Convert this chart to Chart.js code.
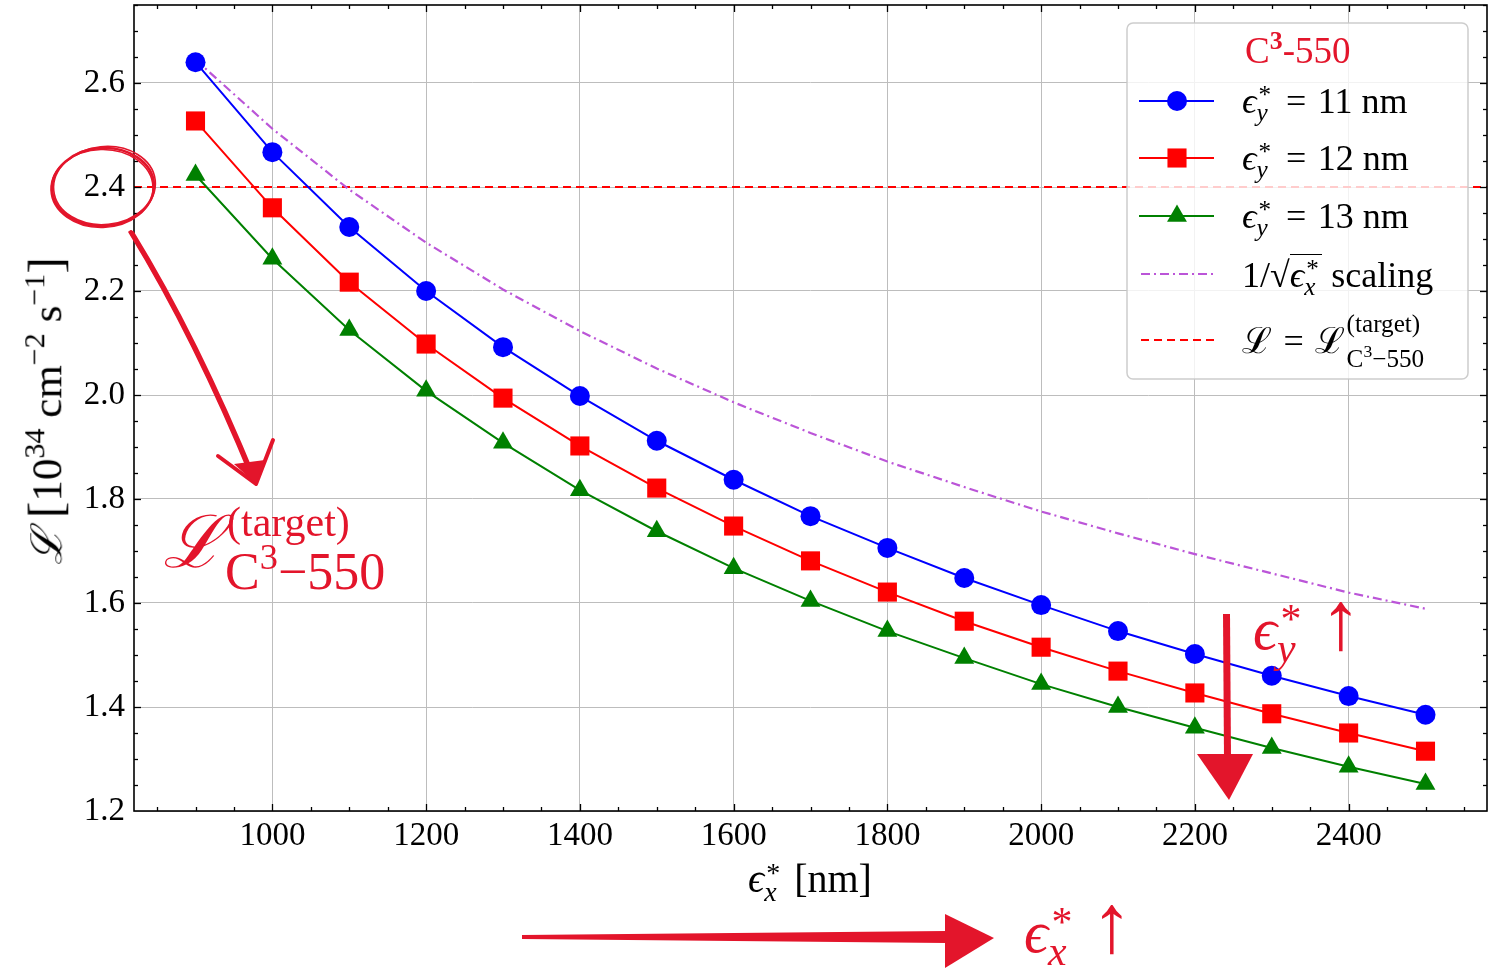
<!DOCTYPE html>
<html>
<head>
<meta charset="utf-8">
<script src="https://cdn.jsdelivr.net/npm/chart.js@4.4.1/dist/chart.umd.min.js"></script>
<style>
  html, body { margin: 0; padding: 0; background: #fff; }
  #wrap { position: relative; width: 1493px; height: 973px; overflow: hidden; }
  #chart { position: absolute; left: 0; top: 0; }
  .txt { position: absolute; white-space: nowrap; line-height: 1; color: #000;
         font-family: "Liberation Serif", "DejaVu Serif", serif; }
  .it { font-style: italic; }
  .sup { font-size: .7em; position: relative; top: -.55em; }
  .ss { display: inline-block; position: relative; width: .5em; height: .6em; }
  .ss .p, .ss .b { position: absolute; left: 0; font-size: .7em; line-height: 1; }
  .ss .p { top: -.35em; left: .08em; }
  .ss .b { top: .35em; font-style: italic; }
  .eq { margin: 0 .32em; }
  .up { font-size: 1.6em; line-height: 0; font-weight: bold; }
  .big { font-size: 1.15em; line-height: 0; }
  .ink { color: #e3152b; }
</style>
</head>
<body>
<div id="wrap"><canvas id="chart" width="1493" height="973"></canvas></div>
<script>
// emittance scan, luminosity in 1e34 cm^-2 s^-1
const emitX = [900, 1000, 1100, 1200, 1300, 1400, 1500, 1600, 1700, 1800, 1900, 2000, 2100, 2200, 2300, 2400, 2500];
const lumiEy11 = [2.640, 2.467, 2.323, 2.200, 2.092, 1.998, 1.912, 1.837, 1.767, 1.706, 1.648, 1.596, 1.546, 1.502, 1.460, 1.421, 1.385];
const lumiEy12 = [2.527, 2.360, 2.217, 2.098, 1.994, 1.902, 1.821, 1.748, 1.681, 1.621, 1.565, 1.515, 1.469, 1.427, 1.387, 1.350, 1.315];
const lumiEy13 = [2.423, 2.262, 2.125, 2.008, 1.908, 1.817, 1.738, 1.667, 1.604, 1.546, 1.494, 1.444, 1.400, 1.360, 1.321, 1.285, 1.252];
const lumiScaling = [2.645, 2.512, 2.395, 2.293, 2.203, 2.123, 2.051, 1.986, 1.927, 1.872, 1.823, 1.776, 1.734, 1.694, 1.657, 1.620, 1.589];
const targetLumi = 2.4;

const xTickValues = [1000, 1200, 1400, 1600, 1800, 2000, 2200, 2400];
const yTickValues = [1.2, 1.4, 1.6, 1.8, 2.0, 2.2, 2.4, 2.6];
const xRange = [820, 2580];
const yRange = [1.2, 2.75];

const FONT = '"Liberation Serif", "DejaVu Serif", serif';
const INK = '#e3152b';
const GRID = '#bdbdbd';
const PURPLE = '#bb55d8';

const pts = ys => emitX.map((x, i) => ({ x, y: ys[i] }));

const series = (label, data, color, style, radius) => ({
  label, data: pts(data), showLine: true,
  borderColor: color, backgroundColor: color, borderWidth: 2,
  pointStyle: style, pointRadius: radius, pointHoverRadius: radius,
  pointBorderWidth: 0, pointBackgroundColor: color,
});

// inward major/minor ticks and the black frame, matplotlib style
const frameTicks = {
  id: 'frameTicks',
  afterDraw(chart) {
    const { ctx, chartArea: a, scales: { x, y } } = chart;
    ctx.save();
    ctx.strokeStyle = '#000';
    ctx.lineWidth = 1.3;
    const tick = (x1, y1, x2, y2) => { ctx.beginPath(); ctx.moveTo(x1, y1); ctx.lineTo(x2, y2); ctx.stroke(); };
    for (let v = 850; v < xRange[1]; v += 50) {
      const px = Math.round(x.getPixelForValue(v)) + 0.5;
      const len = v % 200 === 0 ? 7 : 4;
      tick(px, a.bottom, px, a.bottom - len);
      tick(px, a.top, px, a.top + len);
    }
    for (let v = 1.25; v < yRange[1]; v += 0.05) {
      const r = Math.round(v * 100);
      const py = Math.round(y.getPixelForValue(v)) + 0.5;
      const len = r % 20 === 0 ? 7 : 4;
      tick(a.left, py, a.left + len, py);
      tick(a.right, py, a.right - len, py);
    }
    ctx.lineWidth = 1.6;
    ctx.strokeRect(a.left, a.top, a.right - a.left, a.bottom - a.top);
    ctx.restore();
  }
};

// legend panel (box + samples), text is laid over it in HTML
const legendBox = {
  id: 'legendBox',
  afterDatasetsDraw(chart) {
    const ctx = chart.ctx;
    ctx.save();
    ctx.fillStyle = 'rgba(255,255,255,0.8)';
    ctx.strokeStyle = 'rgba(200,200,200,0.9)';
    ctx.lineWidth = 1.5;
    ctx.beginPath();
    ctx.roundRect(1127, 23, 341, 356, 6);
    ctx.fill();
    ctx.stroke();
    const rows = [
      { y: 101, color: '#0000ff', style: 'circle', r: 10 },
      { y: 158, color: '#ff0000', style: 'rect', r: 13.5 },
      { y: 216, color: '#008000', style: 'triangle', r: 11.5 },
    ];
    rows.forEach(rw => {
      ctx.strokeStyle = rw.color;
      ctx.lineWidth = 2;
      ctx.setLineDash([]);
      ctx.beginPath(); ctx.moveTo(1139, rw.y); ctx.lineTo(1214, rw.y); ctx.stroke();
      ctx.fillStyle = rw.color;
      Chart.helpers.drawPoint(ctx, { pointStyle: rw.style, radius: rw.r, rotation: 0, borderWidth: 0 }, 1177, rw.y);
    });
    ctx.strokeStyle = PURPLE;
    ctx.lineWidth = 2.2;
    ctx.setLineDash([9, 4, 2, 4]);
    ctx.beginPath(); ctx.moveTo(1141, 274); ctx.lineTo(1214, 274); ctx.stroke();
    ctx.strokeStyle = '#ff0000';
    ctx.lineWidth = 2;
    ctx.setLineDash([8, 5]);
    ctx.beginPath(); ctx.moveTo(1141, 340); ctx.lineTo(1214, 340); ctx.stroke();
    ctx.restore();
  }
};

// hand drawn red marks
const sketch = {
  id: 'sketch',
  afterDraw(chart) {
    const ctx = chart.ctx;
    const cy = chart.scales.y.getPixelForValue(targetLumi);
    ctx.save();
    ctx.strokeStyle = INK;
    ctx.fillStyle = INK;
    ctx.lineCap = 'round';
    ctx.lineJoin = 'round';
    [[0, 0, 2.6, -0.06], [1.5, -1.5, 1.6, -0.1], [-1, 1.5, 1.6, -0.03]].forEach(([dx, dy, w, rot]) => {
      ctx.lineWidth = w;
      ctx.beginPath();
      ctx.ellipse(103 + dx, cy + dy, 51, 39, rot, 0, Math.PI * 2);
      ctx.stroke();
    });
    // curved arrow from the circle
    [[0, 4], [2, 2], [-2, 1.6]].forEach(([d, w]) => {
      ctx.lineWidth = w;
      ctx.beginPath();
      ctx.moveTo(131 + d, 232);
      ctx.quadraticCurveTo(196 + d, 338, 254 + d, 480);
      ctx.stroke();
    });
    ctx.lineWidth = 4;
    ctx.beginPath();
    ctx.moveTo(218, 456); ctx.lineTo(256, 484); ctx.lineTo(273, 440);
    ctx.stroke();
    ctx.beginPath();
    ctx.moveTo(234, 464); ctx.lineTo(256, 484); ctx.lineTo(265, 460); ctx.closePath();
    ctx.fill();
    // horizontal arrow under the x label
    ctx.beginPath();
    ctx.moveTo(522, 935); ctx.lineTo(946, 931); ctx.lineTo(946, 943); ctx.lineTo(522, 939);
    ctx.closePath(); ctx.fill();
    ctx.beginPath();
    ctx.moveTo(945, 914); ctx.lineTo(994, 938); ctx.lineTo(945, 968); ctx.closePath();
    ctx.fill();
    // vertical arrow on the right
    ctx.beginPath();
    ctx.moveTo(1223, 614); ctx.lineTo(1230, 614); ctx.lineTo(1231, 758); ctx.lineTo(1224, 758);
    ctx.closePath(); ctx.fill();
    ctx.beginPath();
    ctx.moveTo(1197, 754); ctx.lineTo(1253, 754); ctx.lineTo(1229, 800); ctx.closePath();
    ctx.fill();
    ctx.restore();
  }
};

new Chart(document.getElementById('chart'), {
  type: 'scatter',
  data: {
    datasets: [
      series('εy* = 11 nm', lumiEy11, '#0000ff', 'circle', 10),
      series('εy* = 12 nm', lumiEy12, '#ff0000', 'rect', 13.5),
      series('εy* = 13 nm', lumiEy13, '#008000', 'triangle', 11.5),
      {
        label: '1/√εx* scaling', data: pts(lumiScaling), showLine: true,
        borderColor: PURPLE, borderWidth: 2.2, borderDash: [9, 4, 2, 4], pointRadius: 0,
      },
      {
        label: 'L = L target', data: xRange.map(x => ({ x, y: targetLumi })), showLine: true,
        borderColor: '#ff0000', borderWidth: 2, borderDash: [8, 5], pointRadius: 0,
      },
    ],
  },
  options: {
    responsive: false,
    devicePixelRatio: 1,
    animation: false,
    layout: { autoPadding: false, padding: { left: 0, top: 5, right: 6, bottom: 0 } },
    plugins: { legend: { display: false }, tooltip: { enabled: false } },
    scales: {
      x: {
        type: 'linear', min: xRange[0], max: xRange[1], bounds: 'data',
        afterBuildTicks: s => { s.ticks = xTickValues.map(v => ({ value: v })); },
        afterFit: s => { s.height = 162; s.paddingLeft = 0; s.paddingRight = 0; },
        grid: { color: GRID, lineWidth: 1, drawTicks: false },
        border: { display: false },
        ticks: { color: '#000', font: { family: FONT, size: 33 }, padding: 6, maxRotation: 0, callback: v => String(v) },
      },
      y: {
        type: 'linear', min: yRange[0], max: yRange[1], bounds: 'data',
        afterBuildTicks: s => { s.ticks = yTickValues.map(v => ({ value: v })); },
        afterFit: s => { s.width = 134; s.paddingTop = 0; s.paddingBottom = 0; },
        grid: { color: GRID, lineWidth: 1, drawTicks: false },
        border: { display: false },
        ticks: { color: '#000', font: { family: FONT, size: 33 }, padding: 9, callback: v => v.toFixed(1) },
      },
    },
  },
  plugins: [legendBox, frameTicks, sketch],
});

// text overlays (math-ish labels)
const wrap = document.getElementById('wrap');
function addText(html, x, base, size, extra = '') {
  const el = document.createElement('div');
  el.className = 'txt ' + extra;
  el.style.left = x + 'px';
  el.style.top = (base - 0.84 * size) + 'px';
  el.style.fontSize = size + 'px';
  el.innerHTML = html;
  wrap.appendChild(el);
  return el;
}
const epsStar = sub => `<span class="it">ϵ</span><span class="ss"><span class="p">*</span><span class="b">${sub}</span></span>`;

// legend title + entries
addText('C<b class="sup">3</b>-550', 1245, 63, 37, 'ink');
addText(`${epsStar('y')}<span class="eq">=</span>11 nm`, 1242, 113, 36);
addText(`${epsStar('y')}<span class="eq">=</span>12 nm`, 1242, 170, 36);
addText(`${epsStar('y')}<span class="eq">=</span>13 nm`, 1242, 228, 36);
addText(`1/√<span style="border-top:1.5px solid #000">${epsStar('x')}</span> scaling`, 1242, 287, 36);
addText(`ℒ<span class="eq">=</span>ℒ<span style="display:inline-block;position:relative;width:2.4em;height:.6em">` +
  `<span style="position:absolute;left:.05em;top:-.8em;font-size:.7em">(target)</span>` +
  `<span style="position:absolute;left:.05em;top:.58em;font-size:.7em">C<span class="sup">3</span>−550</span></span>`, 1242, 353, 36);

// axis titles
addText(`${epsStar('x')} [nm]`, 748, 893, 40);
const yt = addText('<span class="it">ℒ</span>&nbsp;<span style="font-size:1.15em">[</span>10<span class="sup">34</span>&nbsp;cm<span class="sup">−2</span>&nbsp;s<span class="sup">−1</span><span style="font-size:1.15em">]</span>', 0, 0, 43);
yt.style.left = '45px';
yt.style.top = '411px';
yt.style.transform = 'translate(-50%, -50%) rotate(-90deg)';

// hand written notes
addText('<span class="it" style="font-size:1.45em">ℒ</span>', 163, 549, 50, 'ink');
addText('(target)', 227, 536, 42, 'ink');
addText('C<span class="sup">3</span>−550', 225, 590, 52, 'ink');
addText(`<span class="big">${epsStar('x')}</span> <span class="up">↑</span>`, 1024, 953, 52, 'ink');
addText(`<span class="big">${epsStar('y')}</span> <span class="up">↑</span>`, 1253, 650, 52, 'ink');
</script>
</body>
</html>
